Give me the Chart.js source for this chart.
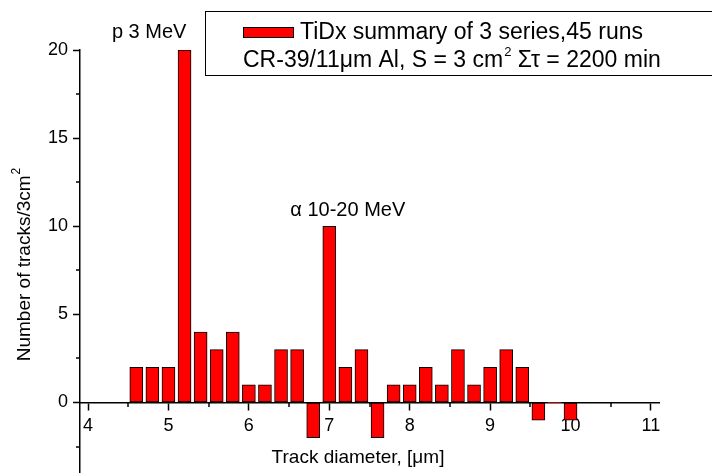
<!DOCTYPE html>
<html>
<head>
<meta charset="utf-8">
<script src="https://cdn.jsdelivr.net/npm/chart.js@4.4.0/dist/chart.umd.min.js"></script>
<style>
  body { margin: 0; background: #fff; }
  #wrap { width: 712px; height: 473px; }
</style>
</head>
<body>
<div id="wrap"><canvas id="histChart"></canvas></div>
<script>
// track diameter bins (um) and counts per 3 cm2
const diameters = [4.6, 4.8, 5.0, 5.2, 5.4, 5.6, 5.8, 6.0, 6.2, 6.4, 6.6, 6.8, 7.0, 7.2,
                   7.4, 7.6, 7.8, 8.0, 8.2, 8.4, 8.6, 8.8, 9.0, 9.2, 9.4, 9.6, 9.8, 10.0];
const tracks = [2, 2, 2, 20, 4, 3, 4, 1, 1, 3, 3, -2, 10, 2,
                3, -2, 1, 1, 2, 1, 3, 1, 2, 3, 2, -1, 0, -1];
const xTicks = [4, 5, 6, 7, 8, 9, 10, 11];
const xMinor = [4.5, 5.5, 6.5, 7.5, 8.5, 9.5, 10.5];
const yTicks = [0, 5, 10, 15, 20];
const yMinor = [-2.5, 2.5, 7.5, 12.5, 17.5];

const FONT = '"Liberation Sans", Arial, sans-serif';

const textPlugin = {
  id: 'extraText',
  afterDraw(chart) {
    const { ctx, scales: { x, y } } = chart;
    ctx.save();

    // minor ticks, shorter than the major ones
    ctx.strokeStyle = '#000';
    ctx.lineWidth = 1.5;
    const y0 = Math.round(y.getPixelForValue(0));
    xMinor.forEach(v => {
      const px = Math.round(x.getPixelForValue(v));
      ctx.beginPath(); ctx.moveTo(px, y0); ctx.lineTo(px, y0 + 4); ctx.stroke();
    });
    const xl = chart.chartArea.left;
    yMinor.forEach(v => {
      const py = Math.round(y.getPixelForValue(v));
      ctx.beginPath(); ctx.moveTo(xl, py); ctx.lineTo(xl - 4, py); ctx.stroke();
    });

    ctx.fillStyle = '#000';
    ctx.textBaseline = 'middle';

    // peak annotations
    ctx.font = '20px ' + FONT;
    ctx.textAlign = 'center';
    ctx.fillText('p 3 MeV', x.getPixelForValue(4.76), y.getPixelForValue(21.0));
    ctx.fillText('\u03b1 10-20 MeV', x.getPixelForValue(7.23), y.getPixelForValue(10.87));

    // axis titles
    ctx.font = '19px ' + FONT;
    ctx.fillText('Track diameter, [\u03bcm]', 358, 458);

    ctx.save();
    ctx.translate(25, 265);
    ctx.rotate(-Math.PI / 2);
    const main = 'Number of tracks/3cm';
    const w1 = ctx.measureText(main).width;
    ctx.font = '12px ' + FONT;
    const w2 = ctx.measureText('2').width;
    const sx = -(w1 + w2) / 2;
    ctx.textAlign = 'left';
    ctx.font = '19px ' + FONT;
    ctx.fillText(main, sx, 0);
    ctx.font = '12px ' + FONT;
    ctx.fillText('2', sx + w1 + 1, -8);
    ctx.restore();

    // legend box
    ctx.strokeStyle = '#000';
    ctx.lineWidth = 1;
    ctx.strokeRect(205.5, 11.5, 507, 64);
    ctx.fillStyle = '#ff0000';
    ctx.fillRect(243.5, 27.5, 50, 10);
    ctx.strokeRect(243.5, 27.5, 50, 10);

    ctx.fillStyle = '#000';
    ctx.textAlign = 'left';
    ctx.font = '23px ' + FONT;
    ctx.fillText('TiDx summary of 3 series,45 runs', 300, 33);

    let px = 243;
    const part1 = 'CR-39/11\u03bcm Al, S = 3 cm';
    ctx.fillText(part1, px, 61);
    px += ctx.measureText(part1).width;
    ctx.font = '13px ' + FONT;
    ctx.fillText('2', px + 1, 52);
    px += ctx.measureText('2').width + 1;
    ctx.font = '23px ' + FONT;
    ctx.fillText(' \u03a3\u03c4 = 2200 min', px, 61);

    ctx.restore();
  }
};

new Chart(document.getElementById('histChart'), {
  type: 'bar',
  data: {
    datasets: [{
      label: 'TiDx summary of 3 series,45 runs',
      data: diameters.map((d, i) => ({ x: d, y: tracks[i] })),
      backgroundColor: '#ff0000',
      borderColor: '#000',
      borderWidth: ctx => (ctx.raw && ctx.raw.y === 0 ? 0 : 1),
      borderSkipped: false,
      barThickness: 13
    }]
  },
  options: {
    responsive: true,
    maintainAspectRatio: false,
    animation: false,
    layout: { padding: { top: 50, right: 53, left: 0, bottom: 0 } },
    plugins: { legend: { display: false }, tooltip: { enabled: false } },
    scales: {
      x: {
        type: 'linear',
        position: { y: 0 },
        offset: false,
        min: 3.9,
        max: 11.1,
        afterBuildTicks: s => {
          s.ticks = xTicks.map(v => ({ value: v }));
        },
        ticks: {
          autoSkip: false,
          maxRotation: 0,
          padding: 6,
          color: '#000',
          font: { family: FONT, size: 18 },
          callback: v => String(v)
        },
        grid: { drawOnChartArea: false, offset: false, tickLength: 7, tickColor: '#000', tickWidth: 1.5 },
        border: { color: '#000', width: 1.5 }
      },
      y: {
        min: -4,
        max: 20,
        afterBuildTicks: s => {
          s.ticks = yTicks.map(v => ({ value: v }));
        },
        afterFit: s => {
          s.width = 80;
          s.paddingTop = 0;
          s.paddingBottom = 0;
        },
        ticks: {
          autoSkip: false,
          padding: 5,
          color: '#000',
          font: { family: FONT, size: 18 },
          callback: v => String(v)
        },
        grid: { drawOnChartArea: false, tickLength: 7, tickColor: '#000', tickWidth: 1.5 },
        border: { color: '#000', width: 1.5 }
      }
    }
  },
  plugins: [textPlugin]
});
</script>
</body>
</html>
